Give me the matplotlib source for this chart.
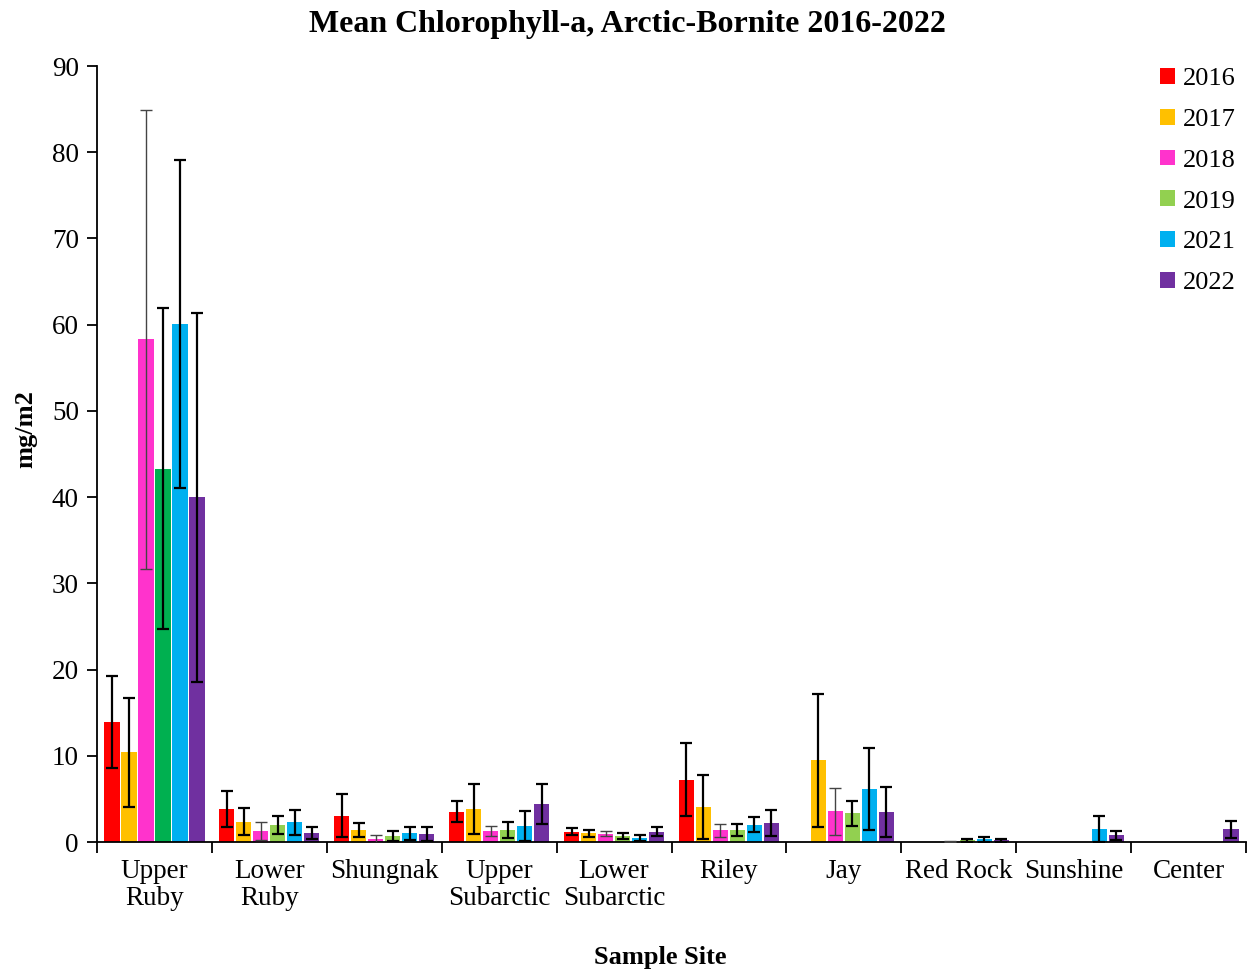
import numpy as np
import matplotlib
matplotlib.use('Agg')
import matplotlib.pyplot as plt
from matplotlib.patches import Patch

plt.rcParams['font.family'] = ['Liberation Serif', 'DejaVu Serif']

sites = ['Upper\nRuby', 'Lower\nRuby', 'Shungnak', 'Upper\nSubarctic', 'Lower\nSubarctic',
         'Riley', 'Jay', 'Red Rock', 'Sunshine', 'Center']
years = ['2016', '2017', '2018', '2019', '2021', '2022']
colors = ['#FF0000', '#FFC000', '#FF33CC', '#92D050', '#00B0F0', '#7030A0']
nan = np.nan

# mean chlorophyll-a (mg/m2), one list per year, ordered as sites
mean_2016 = [13.9, 3.83, 3.05, 3.52, 1.2, 7.23, nan, nan, nan, nan]
mean_2017 = [10.4, 2.36, 1.36, 3.83, 1.0, 4.02, 9.47, nan, nan, nan]
mean_2018 = [58.3, 1.28, 0.35, 1.28, 0.97, 1.36, 3.56, 0.05, nan, nan]
mean_2019 = [43.3, 1.97, 0.7, 1.39, 0.66, 1.36, 3.36, 0.2, nan, nan]
mean_2021 = [60.1, 2.28, 1.0, 1.86, 0.46, 2.0, 6.15, 0.3, 1.5, nan]
mean_2022 = [40.0, 1.04, 0.93, 4.4, 1.2, 2.17, 3.48, 0.2, 0.77, 1.46]

# standard errors
err_2016 = [5.3, 2.1, 2.5, 1.2, 0.4, 4.2, nan, nan, nan, nan]
err_2017 = [6.3, 1.55, 0.8, 2.9, 0.4, 3.7, 7.7, nan, nan, nan]
err_2018 = [26.6, 1.0, 0.45, 0.62, 0.27, 0.75, 2.7, 0.1, nan, nan]
err_2019 = [18.6, 1.0, 0.58, 0.95, 0.36, 0.7, 1.45, 0.2, nan, nan]
err_2021 = [19.0, 1.43, 0.75, 1.7, 0.3, 0.85, 4.8, 0.28, 1.5, nan]
err_2022 = [21.4, 0.74, 0.85, 2.3, 0.55, 1.5, 2.95, 0.2, 0.5, 0.95]

means = [mean_2016, mean_2017, mean_2018, mean_2019, mean_2021, mean_2022]
errs = [err_2016, err_2017, err_2018, err_2019, err_2021, err_2022]

fig = plt.figure(figsize=(12.48, 9.72), dpi=100)
ax = fig.add_axes([97 / 1248, 1 - 842 / 972, (1246 - 97) / 1248, (842 - 66) / 972])

x = np.arange(len(sites))
step = 0.148
width = 0.132
for j, (year, vals, err) in enumerate(zip(years, means, errs)):
    pos = x + (j - 2.5) * step
    bar_colors = [colors[j]] * len(sites)
    if year == '2019':
        bar_colors[0] = '#00B050'  # Upper Ruby 2019 drawn in darker green
    ax.bar(pos, vals, width=width, color=bar_colors, edgecolor='none', zorder=2)
    if year == '2018':
        ax.errorbar(pos, vals, yerr=err, fmt='none', ecolor='#444444', elinewidth=1.0,
                    capsize=4.5, capthick=1.0, zorder=3)
    else:
        ax.errorbar(pos, vals, yerr=err, fmt='none', ecolor='black', elinewidth=1.6,
                    capsize=4.5, capthick=1.6, zorder=3)

ax.set_xlim(-0.5, len(sites) - 0.5)
ax.set_ylim(0, 90)
ax.set_yticks(np.arange(0, 91, 10))
ax.set_xticks(x)
ax.set_xticklabels(sites, fontsize=19.5, linespacing=1.1)
ax.set_xticks(np.arange(-0.5, len(sites), 1), minor=True)
ax.tick_params(axis='x', which='major', length=0, pad=12)
ax.tick_params(axis='x', which='minor', length=8, width=1.3)
ax.tick_params(axis='y', labelsize=19.5, length=7, width=1.3, pad=6)

for side in ['top', 'right']:
    ax.spines[side].set_visible(False)
for side in ['left', 'bottom']:
    ax.spines[side].set_linewidth(1.3)

ax.set_ylabel('mg/m2', fontsize=19, fontweight='bold', va='center')
ax.yaxis.set_label_coords(-0.062, 0.532)
ax.set_xlabel('Sample Site', fontsize=19, fontweight='bold', va='center')
ax.xaxis.set_label_coords(0.49, -0.149)
fig.suptitle('Mean Chlorophyll-a, Arctic-Bornite 2016-2022', fontsize=23,
             fontweight='bold', x=0.503, y=0.99)

handles = [Patch(facecolor=c, label=y) for c, y in zip(colors, years)]
ax.legend(handles=handles, loc='upper right', bbox_to_anchor=(1.0, 1.011), frameon=False,
          fontsize=19, handlelength=0.55, handleheight=0.55, handletextpad=0.3,
          labelspacing=0.7, borderaxespad=0)

fig.savefig('out.png', dpi=100)
